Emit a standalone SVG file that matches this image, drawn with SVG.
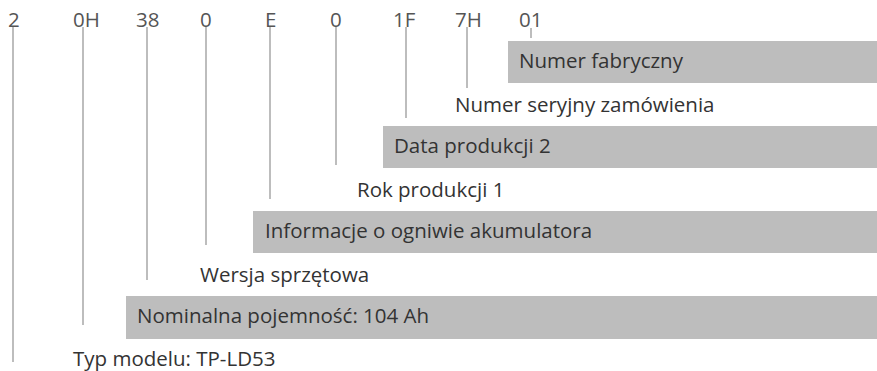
<svg xmlns="http://www.w3.org/2000/svg" width="877" height="371" viewBox="0 0 877 371">
<style>
.t{font-family:"Open Sans","Noto Sans",sans-serif;font-size:20.5px;fill:#333}
.c{font-family:"Open Sans","Noto Sans",sans-serif;font-size:20.5px;fill:#555}
.b{fill:#bdbdbd}
.l{stroke:#9a9a9a;stroke-width:1.3;fill:none}
</style>
<rect width="877" height="371" fill="#fff"/>
<g id="codes">
<text class="c" x="8" y="27">2</text>
<text class="c" x="73" y="27">0H</text>
<text class="c" x="136" y="27">38</text>
<text class="c" x="200" y="27">0</text>
<text class="c" x="265" y="27">E</text>
<text class="c" x="330" y="27">0</text>
<text class="c" x="393" y="27">1F</text>
<text class="c" x="455" y="27">7H</text>
<text class="c" x="519" y="27">01</text>
</g>
<g id="connectors">
<line class="l" x1="13" y1="27" x2="13" y2="362"/>
<line class="l" x1="83" y1="27" x2="83" y2="325"/>
<line class="l" x1="147" y1="27" x2="147" y2="280"/>
<line class="l" x1="206" y1="27" x2="206" y2="245"/>
<line class="l" x1="270" y1="27" x2="270" y2="199"/>
<line class="l" x1="336" y1="27" x2="336" y2="165"/>
<line class="l" x1="406" y1="27" x2="406" y2="118"/>
<line class="l" x1="467" y1="27" x2="467" y2="88"/>
<line class="l" x1="531" y1="28" x2="531" y2="38"/>
</g>
<g id="n-fabryczny">
<rect class="b" x="508" y="41" width="369" height="42"/>
<text class="t" x="519" y="68">Numer fabryczny</text>
</g>
<g id="n-seryjny">
<text class="t" x="455" y="112">Numer seryjny zamówienia</text>
</g>
<g id="n-data">
<rect class="b" x="383" y="126" width="494" height="42"/>
<text class="t" x="394" y="153">Data produkcji 2</text>
</g>
<g id="n-rok">
<text class="t" x="357" y="197">Rok produkcji 1</text>
</g>
<g id="n-info">
<rect class="b" x="253" y="211" width="624" height="42"/>
<text class="t" x="265" y="238">Informacje o ogniwie akumulatora</text>
</g>
<g id="n-wersja">
<text class="t" x="200" y="282">Wersja sprzętowa</text>
</g>
<g id="n-nominal">
<rect class="b" x="126" y="296" width="751" height="43"/>
<text class="t" x="137" y="323">Nominalna pojemność: 104 Ah</text>
</g>
<g id="n-typ">
<text class="t" x="73" y="366">Typ modelu: TP-LD53</text>
</g>
</svg>
